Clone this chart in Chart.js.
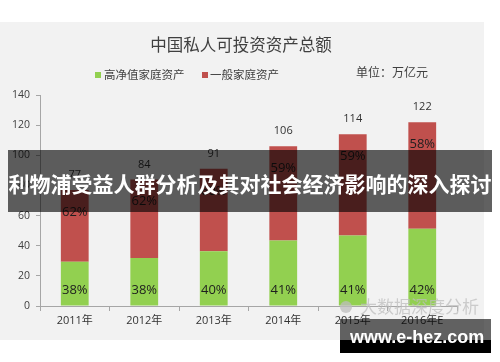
<!DOCTYPE html>
<html><head><meta charset="utf-8">
<script src="https://cdn.jsdelivr.net/npm/chart.js@4"></script>
<style>html,body{margin:0;padding:0;background:#fff;overflow:hidden;} #wrap{position:relative;width:500px;height:362px;}</style>
</head><body><div id="wrap"><canvas id="c" width="500" height="362"></canvas></div>
<script>
const categories = ['2011年','2012年','2013年','2014年','2015年','2016年E'];
const highNetWorth = [29.3, 31.9, 36.4, 43.5, 46.7, 51.2];
const ordinary = [47.7, 52.1, 54.6, 62.5, 67.3, 70.8];
const totals = [77, 84, 91, 106, 114, 122];
const highShare = ['38%','38%','40%','41%','41%','42%'];
const ordinaryShare = ['62%','62%','60%','59%','59%','58%'];
const seriesNames = ['高净值家庭资产','一般家庭资产'];
const yMin = 0, yMax = 140, yStep = 20;

const GREEN = '#92d050', RED = '#c0504d';
const FONT = "'Open Sans','Noto Sans CJK SC',sans-serif";
const CJK = "'Noto Sans CJK SC','Noto Sans',sans-serif";

const bgPlugin = {
  id: 'bg',
  beforeDraw(chart) {
    const ctx = chart.ctx;
    ctx.save();
    ctx.fillStyle = '#ffffff';
    ctx.fillRect(0, 0, 500, 362);
    ctx.fillStyle = '#f2f2f2';
    ctx.fillRect(0, 22, 484, 318);
    ctx.restore();
  }
};

const labelPlugin = {
  id: 'labels',
  afterDatasetsDraw(chart) {
    const ctx = chart.ctx;
    const m0 = chart.getDatasetMeta(0), m1 = chart.getDatasetMeta(1);
    const bottom = chart.scales.y.getPixelForValue(0);
    ctx.save();
    ctx.textAlign = 'center';
    ctx.textBaseline = 'middle';
    m1.data.forEach((bar, i) => {
      const top = bar.y;
      ctx.fillStyle = '#333333';
      ctx.font = "11px " + FONT;
      ctx.fillText(String(totals[i]), bar.x, top - 15);
      ctx.fillStyle = '#1e1e1e';
      ctx.font = "13px " + FONT;
      ctx.fillText(ordinaryShare[i], bar.x, top + 22);
    });
    m0.data.forEach((bar, i) => {
      ctx.fillStyle = '#1e1e1e';
      ctx.font = "13px " + FONT;
      ctx.fillText(highShare[i], bar.x, bottom - 16);
    });
    ctx.restore();
  }
};

const overlayPlugin = {
  id: 'overlay',
  afterDraw(chart) {
    const ctx = chart.ctx;
    ctx.save();
    // title
    ctx.fillStyle = '#404040';
    ctx.textAlign = 'center';
    ctx.textBaseline = 'middle';
    ctx.font = "16.5px " + CJK;
    ctx.fillText('中国私人可投资资产总额', 241, 45);
    // legend
    ctx.textAlign = 'left';
    ctx.font = "11.5px " + CJK;
    ctx.fillStyle = GREEN;
    ctx.fillRect(95, 72, 6, 6);
    ctx.fillStyle = '#404040';
    ctx.fillText(seriesNames[0], 104, 75);
    ctx.fillStyle = RED;
    ctx.fillRect(202, 72, 6, 6);
    ctx.fillStyle = '#404040';
    ctx.fillText(seriesNames[1], 210, 75);
    ctx.font = "12px " + CJK;
    ctx.fillText('单位：万亿元', 356, 72);
    // faint watermark
    ctx.fillStyle = 'rgba(190,190,190,0.75)';
    ctx.font = "17px " + CJK;
    ctx.fillText('大数据深度分析', 360, 307);
    ctx.beginPath();
    ctx.arc(346, 307, 6, 0, Math.PI * 2);
    ctx.fill();
    // banner
    ctx.fillStyle = 'rgba(0,0,0,0.62)';
    ctx.fillRect(8, 150, 484, 62);
    ctx.fillStyle = '#ffffff';
    ctx.textAlign = 'center';
    ctx.font = "bold 21px " + CJK;
    ctx.fillText('利物浦受益人群分析及其对社会经济影响的深入探讨', 250, 184);
    // site watermark
    ctx.fillStyle = 'rgba(0,0,0,0.6)';
    ctx.fillRect(340, 319, 151, 21);
    ctx.fillStyle = '#000000';
    ctx.fillRect(340, 340, 151, 13);
    ctx.fillStyle = '#ffffff';
    ctx.textAlign = 'left';
    ctx.textBaseline = 'alphabetic';
    ctx.font = "bold 18px 'Liberation Sans',Arial,sans-serif";
    ctx.fillText('www.e-hez.com', 350, 343);
    ctx.restore();
  }
};

new Chart(document.getElementById('c'), {
  type: 'bar',
  data: {
    labels: categories,
    datasets: [
      { label: seriesNames[0], data: highNetWorth, backgroundColor: GREEN, borderWidth: 0 },
      { label: seriesNames[1], data: ordinary, backgroundColor: RED, borderWidth: 0 }
    ]
  },
  options: {
    responsive: false,
    devicePixelRatio: 1,
    animation: false,
    layout: { padding: { left: 0, right: 43, top: 95, bottom: 26 } },
    plugins: { legend: { display: false }, title: { display: false }, tooltip: { enabled: false } },
    datasets: { bar: { categoryPercentage: 1, barPercentage: 0.4 } },
    scales: {
      x: {
        stacked: true,
        grid: { drawOnChartArea: false, offset: true, tickLength: 5, color: '#a6a6a6' },
        border: { color: '#a6a6a6' },
        ticks: { font: { size: 11, family: FONT }, color: '#333333', padding: 3 },
        afterFit(s) { s.height = 30; }
      },
      y: {
        stacked: true,
        min: yMin, max: yMax,
        grid: { drawOnChartArea: false, tickLength: 4, color: '#a6a6a6' },
        border: { color: '#a6a6a6' },
        ticks: { stepSize: yStep, font: { size: 10.5, family: FONT }, color: '#404040', padding: 6 },
        afterFit(s) { s.width = 40; }
      }
    }
  },
  plugins: [bgPlugin, labelPlugin, overlayPlugin]
});
</script>
</body></html>
